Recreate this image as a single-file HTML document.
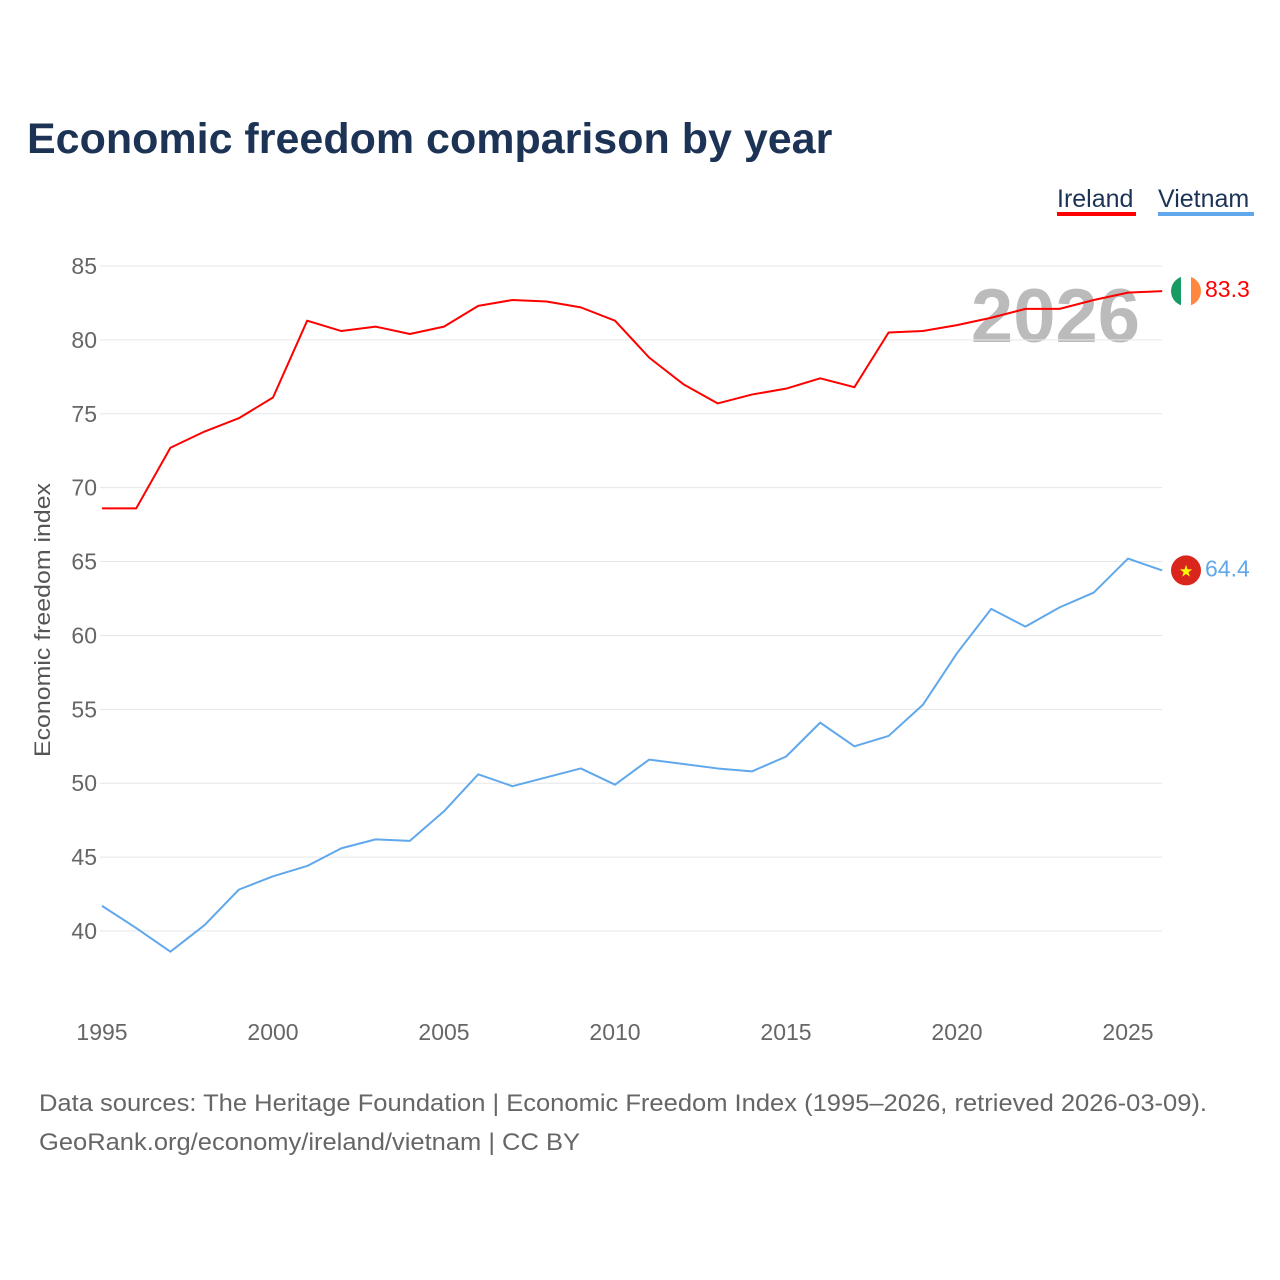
<!DOCTYPE html>
<html><head><meta charset="utf-8"><style>
html,body{margin:0;padding:0;background:#fff;}
body{width:1280px;height:1280px;position:relative;font-family:"Liberation Sans",sans-serif;overflow:hidden;}
</style></head><body>
<svg id="chart" width="1280" height="1280" xmlns="http://www.w3.org/2000/svg" style="position:absolute;left:0;top:0">
<text x="27" y="153" font-size="43" font-weight="bold" fill="#1c3355" font-family="Liberation Sans, sans-serif">Economic freedom comparison by year</text>
<g>
<text x="1057" y="207" font-size="25" fill="#1c3355">Ireland</text>
<rect x="1057" y="212" width="79" height="4" fill="#ff0000"/>
<text x="1158" y="207" font-size="25" fill="#1c3355">Vietnam</text>
<rect x="1158" y="212" width="96" height="4" fill="#60a8eb"/>
</g>
<text x="1140" y="342" font-size="76" font-weight="bold" fill="#bbbbbb" text-anchor="end">2026</text>
<g id="grid"></g><g id="yticks"></g><g id="xticks"></g><g id="lines"></g>
<text transform="translate(50,620) rotate(-90)" font-size="22" fill="#555" text-anchor="middle" textLength="274" lengthAdjust="spacingAndGlyphs">Economic freedom index</text>
<text x="39" y="1111" font-size="24" fill="#666" textLength="1168" lengthAdjust="spacingAndGlyphs">Data sources: The Heritage Foundation | Economic Freedom Index (1995–2026, retrieved 2026-03-09).</text>
<text x="39" y="1150" font-size="24" fill="#666" textLength="541" lengthAdjust="spacingAndGlyphs">GeoRank.org/economy/ireland/vietnam | CC BY</text>
</svg>
<script>
const years=[1995,1996,1997,1998,1999,2000,2001,2002,2003,2004,2005,2006,2007,2008,2009,2010,2011,2012,2013,2014,2015,2016,2017,2018,2019,2020,2021,2022,2023,2024,2025,2026];
const ireland=[68.6,68.6,72.7,73.8,74.7,76.1,81.3,80.6,80.9,80.4,80.9,82.3,82.7,82.6,82.2,81.3,78.8,77.0,75.7,76.3,76.7,77.4,76.8,80.5,80.6,81.0,81.5,82.1,82.1,82.7,83.2,83.3];
const vietnam=[41.7,40.2,38.6,40.4,42.8,43.7,44.4,45.6,46.2,46.1,48.1,50.6,49.8,50.4,51.0,49.9,51.6,51.3,51.0,50.8,51.8,54.1,52.5,53.2,55.3,58.8,61.8,60.6,61.9,62.9,65.2,64.4];
const yTicks=[40,45,50,55,60,65,70,75,80,85];
const xTicks=[1995,2000,2005,2010,2015,2020,2025];
const NS="http://www.w3.org/2000/svg";
const X=y=>102+(y-1995)*(1128-102)/30;
const Y=v=>931-(v-40)*(931-266)/45;
function mk(tag,attrs,parent){const e=document.createElementNS(NS,tag);for(const k in attrs)e.setAttribute(k,attrs[k]);parent.appendChild(e);return e;}
const grid=document.getElementById('grid'),yt=document.getElementById('yticks'),xt=document.getElementById('xticks'),ln=document.getElementById('lines');
yTicks.forEach(t=>{
 const l=mk('line',{x1:100,x2:1162,y1:Y(t),y2:Y(t),stroke:'#e6e6e6','stroke-width':1},grid);
 
 
 const tx=mk('text',{x:97,y:Y(t)+8,'font-size':23,fill:'#666','text-anchor':'end'},yt);
 tx.textContent=t;
 
 
});
xTicks.forEach(t=>{
 const tx=mk('text',{x:X(t),y:1040,'font-size':23,fill:'#666','text-anchor':'middle'},xt);
 tx.textContent=t;
 
 
});
function series(vals,color,name){
 const p=mk('polyline',{points:vals.map((v,i)=>X(years[i])+','+Y(v)).join(' '),fill:'none',stroke:color,'stroke-width':2,'stroke-linejoin':'round'},ln);
 
 
 const last=vals[vals.length-1];
 const t=mk('text',{x:1205,y:Y(last)+6,'font-size':23,fill:color},ln);
 t.textContent=last.toFixed(1);
 
 
 return Y(last);
}
const yi=series(ireland,'#ff0000','ireland');
const yv=series(vietnam,'#60a8eb','vietnam');
const fi=mk('g',{},ln);


const cp=mk('clipPath',{id:'ci'},fi);
mk('circle',{cx:1186,cy:yi,r:15},cp);
mk('rect',{x:1171,y:yi-15,width:10,height:30,fill:'#169b62','clip-path':'url(#ci)'},fi);
mk('rect',{x:1181,y:yi-15,width:10,height:30,fill:'#fff','clip-path':'url(#ci)'},fi);
mk('rect',{x:1191,y:yi-15,width:10,height:30,fill:'#ff883e','clip-path':'url(#ci)'},fi);
const fv=mk('g',{},ln);


mk('circle',{cx:1186,cy:yv,r:15,fill:'#da251d'},fv);
const st=mk('text',{x:1186,y:yv+6,'font-size':16,fill:'#ffff00','text-anchor':'middle'},fv);
st.textContent='★';
</script>
</body></html>
